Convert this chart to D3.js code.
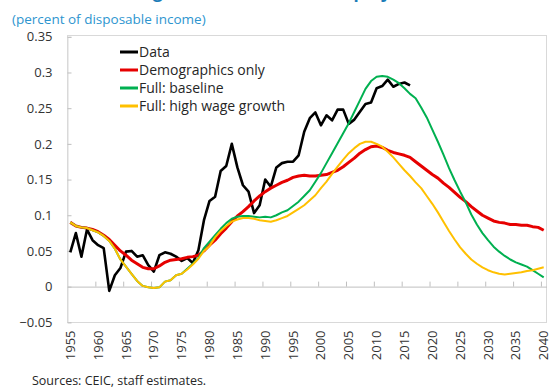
<!DOCTYPE html>
<html>
<head>
<meta charset="utf-8">
<script src="https://cdn.jsdelivr.net/npm/d3@7"></script>
<style>
  html, body { margin: 0; padding: 0; background: #fff; }
  svg { display: block; }
  text { font-family: "Open Sans", "Noto Sans", sans-serif; }
</style>
</head>
<body>
<svg id="chart" width="551" height="390"></svg>
<script>
// Household saving rate: data and model projections, 1955-2040
const years = d3.range(1955, 2041);

const dataActual = [
  0.048, 0.075, 0.042, 0.080, 0.065, 0.058, 0.054, -0.006, 0.016, 0.026,
  0.049, 0.050, 0.042, 0.044, 0.030, 0.021, 0.044, 0.048, 0.046, 0.042,
  0.036, 0.040, 0.033, 0.051, 0.093, 0.120, 0.126, 0.162, 0.169, 0.200,
  0.167, 0.142, 0.133, 0.103, 0.114, 0.150, 0.140, 0.167, 0.173, 0.175,
  0.175, 0.184, 0.217, 0.236, 0.244, 0.226, 0.240, 0.233, 0.248, 0.248,
  0.228, 0.234, 0.245, 0.256, 0.258, 0.278, 0.281, 0.290, 0.280, 0.284,
  0.286, 0.282
];

const demographicsOnly = [
  0.090, 0.085, 0.083, 0.082, 0.080, 0.077, 0.072, 0.066, 0.058, 0.050,
  0.044, 0.037, 0.032, 0.027, 0.025, 0.025, 0.029, 0.034, 0.037, 0.038,
  0.039, 0.041, 0.042, 0.044, 0.050, 0.058, 0.065, 0.074, 0.082, 0.091,
  0.099, 0.105, 0.112, 0.120, 0.127, 0.133, 0.138, 0.142, 0.146, 0.149,
  0.153, 0.155, 0.156, 0.155, 0.155, 0.156, 0.157, 0.160, 0.163, 0.168,
  0.174, 0.180, 0.187, 0.192, 0.196, 0.197, 0.195, 0.191, 0.188, 0.186,
  0.184, 0.181, 0.175, 0.169, 0.163, 0.157, 0.152, 0.145, 0.139, 0.132,
  0.125, 0.119, 0.112, 0.106, 0.100, 0.096, 0.092, 0.090, 0.089, 0.087,
  0.087, 0.086, 0.086, 0.084, 0.083, 0.079
];

const fullBaseline = [
  0.090, 0.085, 0.083, 0.082, 0.079, 0.076, 0.071, 0.064, 0.053, 0.038,
  0.028, 0.018, 0.008, 0.001, -0.001, -0.002, -0.001, 0.007, 0.009, 0.016,
  0.018, 0.025, 0.032, 0.040, 0.054, 0.063, 0.072, 0.081, 0.089, 0.095,
  0.098, 0.099, 0.099, 0.098, 0.097, 0.098, 0.097, 0.100, 0.104, 0.107,
  0.113, 0.119, 0.127, 0.135, 0.147, 0.159, 0.173, 0.187, 0.201, 0.215,
  0.229, 0.245, 0.261, 0.277, 0.288, 0.294, 0.295, 0.294, 0.290, 0.285,
  0.278, 0.270, 0.264, 0.251, 0.237, 0.220, 0.203, 0.185, 0.166, 0.149,
  0.133, 0.118, 0.101, 0.087, 0.075, 0.065, 0.056, 0.049, 0.043, 0.038,
  0.034, 0.031, 0.028, 0.023, 0.018, 0.013
];

const fullHighWage = [
  0.090, 0.085, 0.083, 0.082, 0.079, 0.076, 0.071, 0.064, 0.053, 0.038,
  0.028, 0.018, 0.008, 0.001, -0.001, -0.002, -0.001, 0.007, 0.009, 0.016,
  0.018, 0.024, 0.031, 0.039, 0.050, 0.057, 0.069, 0.078, 0.085, 0.091,
  0.094, 0.096, 0.096, 0.095, 0.093, 0.092, 0.091, 0.093, 0.096, 0.099,
  0.104, 0.109, 0.114, 0.121, 0.128, 0.138, 0.147, 0.158, 0.168, 0.178,
  0.187, 0.194, 0.200, 0.203, 0.203, 0.200, 0.196, 0.189, 0.181, 0.172,
  0.163, 0.155, 0.146, 0.138, 0.127, 0.116, 0.104, 0.091, 0.078, 0.066,
  0.055, 0.046, 0.038, 0.032, 0.027, 0.023, 0.020, 0.018, 0.017, 0.018,
  0.019, 0.020, 0.022, 0.023, 0.025, 0.027
];

const yTicks = [-0.05, 0, 0.05, 0.1, 0.15, 0.2, 0.25, 0.3, 0.35];
const xLabelYears = d3.range(1955, 2041, 5);

const seriesNames = ["Data", "Demographics only", "Full: baseline", "Full: high wage growth"];
const seriesColors = ["#000000", "#E60000", "#00B050", "#FFC000"];
const seriesWidths = [2.6, 3, 2, 2];

const svg = d3.select("#chart");
const plot = { left: 67.5, right: 546.5, top: 35.5, bottom: 322.5 };

// Title (runs off the top edge) and units line
svg.append("text")
  .attr("x", 12).attr("y", -2.5)
  .attr("fill", "#1C7DB8")
  .attr("font-size", 17).attr("font-weight", "bold")
  .text("Household Saving Rate: Data and Model projections");

svg.append("text")
  .attr("x", 12).attr("y", 24)
  .attr("fill", "#2E95CF")
  .attr("font-size", 13.5)
  .text("(percent of disposable income)");

const x = d3.scaleBand().domain(years).range([plot.left, plot.right]);
const xEdge = d3.scaleLinear().domain([1954.5, 2040.5]).range([plot.left, plot.right]);
const y = d3.scaleLinear().domain([-0.05, 0.35]).range([plot.bottom - 0.2, plot.top + 1.3]);
const cx = yr => x(yr) + x.bandwidth() / 2;

// Plot frame
svg.append("rect")
  .attr("x", plot.left).attr("y", plot.top)
  .attr("width", plot.right - plot.left).attr("height", plot.bottom - plot.top)
  .attr("fill", "none").attr("stroke", "#D9D9D9").attr("stroke-width", 1);

// Y axis with inward ticks
const yAxis = svg.append("g")
  .attr("transform", `translate(${plot.left},0)`)
  .call(d3.axisLeft(y).tickValues(yTicks).tickSize(-4).tickPadding(15)
    .tickFormat(d => d3.format("")(+d.toFixed(2))));
yAxis.select(".domain").attr("stroke", "#D9D9D9");
yAxis.selectAll(".tick line").attr("stroke", "#BFBFBF");
yAxis.selectAll("text").attr("font-size", 13).attr("fill", "#333");

// Zero line with tick marks on category boundaries
const zeroAxis = svg.append("g")
  .attr("transform", `translate(0,${y(0)})`)
  .call(d3.axisTop(xEdge).tickValues(d3.range(1959.5, 2040, 5)).tickSize(5).tickSizeOuter(0).tickFormat(""));
zeroAxis.select(".domain").attr("stroke", "#BFBFBF");
zeroAxis.selectAll(".tick line").attr("stroke", "#BFBFBF");

// Year labels, rotated, below the frame
const xAxis = svg.append("g")
  .attr("transform", `translate(0,${plot.bottom})`)
  .call(d3.axisBottom(x).tickValues(xLabelYears).tickSize(0));
xAxis.select(".domain").remove();
xAxis.selectAll("text")
  .attr("font-size", 13).attr("fill", "#333")
  .attr("transform", "rotate(-90)")
  .attr("text-anchor", "end")
  .attr("x", -8).attr("y", 0).attr("dy", "0.35em");

// Series lines
const allSeries = [dataActual, demographicsOnly, fullBaseline, fullHighWage];
const line = d3.line().x(d => cx(d.year)).y(d => y(d.v)).curve(d3.curveLinear);
allSeries.forEach((vals, i) => {
  const pts = vals.map((v, k) => ({ year: years[k], v }));
  svg.append("path")
    .datum(pts)
    .attr("fill", "none")
    .attr("stroke", seriesColors[i])
    .attr("stroke-width", seriesWidths[i])
    .attr("stroke-linejoin", "round")
    .attr("d", line);
});

// Legend
const legend = svg.append("g").attr("transform", "translate(120,52)");
seriesNames.forEach((name, i) => {
  const g = legend.append("g").attr("transform", `translate(0,${i * 18})`);
  g.append("line").attr("x1", 0).attr("x2", 18).attr("y1", 0).attr("y2", 0)
    .attr("stroke", seriesColors[i]).attr("stroke-width", 3);
  g.append("text").attr("x", 19).attr("y", 0).attr("dy", "0.35em")
    .attr("font-size", 14).attr("fill", "#262626").text(name);
});

// Source note
svg.append("text")
  .attr("x", 32).attr("y", 385)
  .attr("font-size", 12.5).attr("fill", "#262626")
  .text("Sources: CEIC, staff estimates.");
</script>
</body>
</html>
